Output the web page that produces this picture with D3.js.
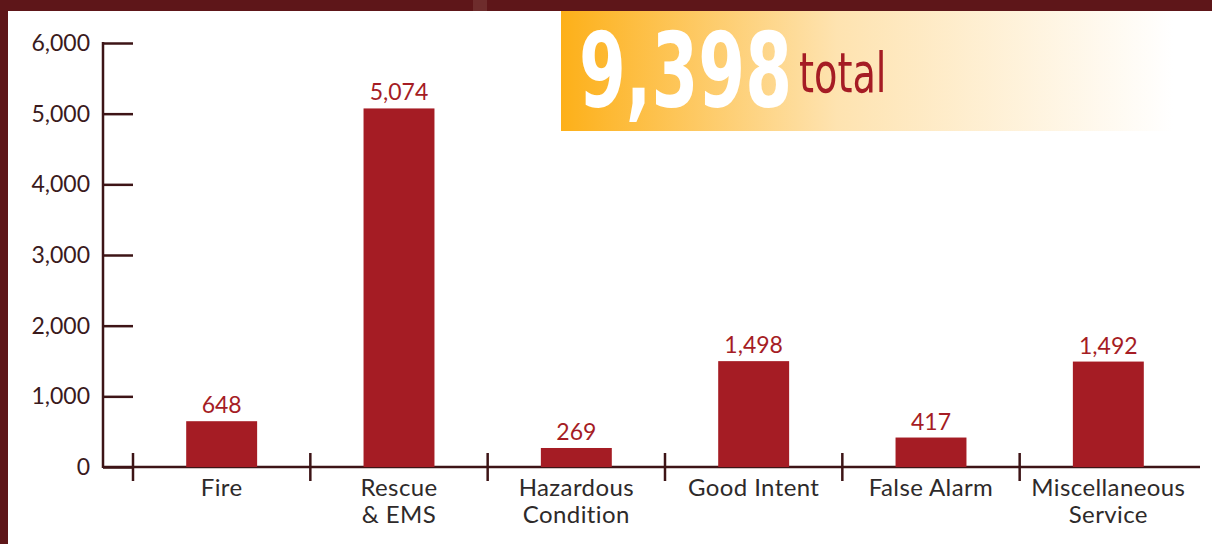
<!DOCTYPE html>
<html>
<head>
<meta charset="utf-8">
<script src="https://cdn.jsdelivr.net/npm/d3@7"></script>
<style>
  body { margin: 0; background: #fff; }
  svg { display: block; }
</style>
</head>
<body>
<svg id="chart" width="1212" height="544"></svg>
<script>
// Данные
const categories = [["Fire"], ["Rescue", "& EMS"], ["Hazardous", "Condition"], ["Good Intent"], ["False Alarm"], ["Miscellaneous", "Service"]];
const values = [648, 5074, 269, 1498, 417, 1492];
const yTicks = [0, 1000, 2000, 3000, 4000, 5000, 6000];
const total = d3.sum(values);

const svg = d3.select("#chart");
const fmt = d3.format(",");

// рамка
svg.append("rect").attr("x", 0).attr("y", 0).attr("width", 1212).attr("height", 11).attr("fill", "#5e1619");
svg.append("rect").attr("x", 473).attr("y", 0).attr("width", 14).attr("height", 11).attr("fill", "#6e2c2c");
svg.append("rect").attr("x", 0).attr("y", 0).attr("width", 8).attr("height", 544).attr("fill", "#5e1619");

// плашка с итогом
const defs = svg.append("defs");
const grad = defs.append("linearGradient").attr("id", "tot").attr("x1", 0).attr("x2", 1);
grad.append("stop").attr("offset", "0%").attr("stop-color", "#fdb019");
grad.append("stop").attr("offset", "45%").attr("stop-color", "#fee3b0");
grad.append("stop").attr("offset", "100%").attr("stop-color", "#ffffff");
svg.append("rect").attr("x", 561).attr("y", 11).attr("width", 612).attr("height", 120).attr("fill", "url(#tot)");
// сжимаем по ширине через transform (шрифт шире оригинала)
svg.append("text").attr("transform", "translate(579,107) scale(0.72,1)")
  .attr("font-family", "DejaVu Sans Condensed, DejaVu Sans").attr("font-weight", "bold")
  .attr("font-size", 104).attr("fill", "#fff")
  .text(fmt(total));
svg.append("text").attr("transform", "translate(799,92) scale(0.76,1)")
  .attr("font-family", "DejaVu Sans Condensed, DejaVu Sans")
  .attr("font-size", 56).attr("fill", "#a51c24")
  .text("total");

// шкалы
const x = d3.scaleBand().domain(d3.range(values.length)).range([133, 1197]).paddingInner(0.6).paddingOuter(0.3);
const y = d3.scaleLinear().domain([0, 6000]).range([467, 43]);
const step = x.step();

// ось Y
const yAxis = svg.append("g").attr("transform", "translate(103,0)")
  .call(d3.axisRight(y).tickValues(yTicks).tickSize(30).tickFormat(""));
yAxis.select(".domain").remove();
yAxis.selectAll("line").attr("stroke", "#3d1416").attr("stroke-width", 2.5);
svg.append("line").attr("x1", 103).attr("x2", 103).attr("y1", 42).attr("y2", 468)
  .attr("stroke", "#3d1416").attr("stroke-width", 2.5);
svg.append("g").selectAll("text").data(yTicks).join("text")
  .attr("x", 90).attr("y", d => y(d) + 8)
  .attr("text-anchor", "end").attr("font-family", "Lato").attr("font-size", 23)
  .attr("fill", "#3a1a1c").text(d => fmt(d));

// ось X
svg.append("line").attr("x1", 103).attr("x2", 1200).attr("y1", 467).attr("y2", 467)
  .attr("stroke", "#3d1416").attr("stroke-width", 2.5);
svg.append("g").selectAll("line").data(d3.range(values.length)).join("line")
  .attr("x1", i => x(i) - step * 0.3).attr("x2", i => x(i) - step * 0.3)
  .attr("y1", 453).attr("y2", 481)
  .attr("stroke", "#3d1416").attr("stroke-width", 2.5);

// столбцы
svg.append("g").selectAll("rect").data(values).join("rect")
  .attr("x", (d, i) => x(i)).attr("width", x.bandwidth())
  .attr("y", d => y(d)).attr("height", d => y(0) - y(d))
  .attr("fill", "#a51c24");

// подписи значений
svg.append("g").selectAll("text").data(values).join("text")
  .attr("x", (d, i) => x(i) + x.bandwidth() / 2).attr("y", d => y(d) - 8)
  .attr("text-anchor", "middle").attr("font-family", "Lato").attr("font-size", 23)
  .attr("fill", "#a51c24").text(d => fmt(d));

// подписи категорий
const cat = svg.append("g").selectAll("text").data(categories).join("text")
  .attr("x", (d, i) => x(i) + x.bandwidth() / 2).attr("y", 496)
  .attr("text-anchor", "middle").attr("font-family", "Lato").attr("font-size", 24)
  .attr("fill", "#2e2a2a").attr("letter-spacing", 0.4);
cat.selectAll("tspan").data(d => d).join("tspan")
  .attr("x", function () { return this.parentNode.getAttribute("x"); })
  .attr("dy", (d, j) => j === 0 ? 0 : 27)
  .text(d => d);
</script>
</body>
</html>
